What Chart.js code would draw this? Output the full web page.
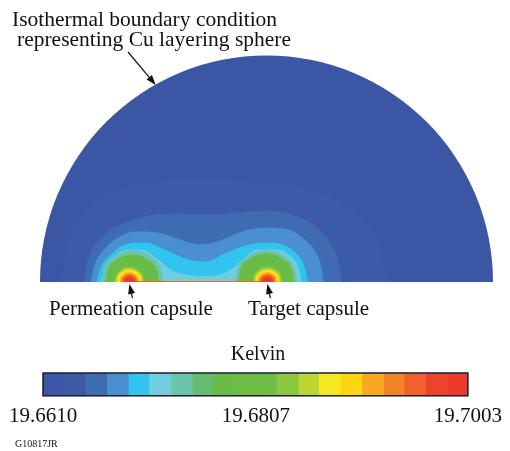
<!DOCTYPE html>
<html>
<head>
<meta charset="utf-8">
<script src="https://cdn.jsdelivr.net/npm/chart.js@4.4.1/dist/chart.umd.min.js"></script>
<style>
  html, body { margin: 0; padding: 0; background: #fff; }
  #wrap { position: relative; width: 510px; height: 451px; }
  #wrap canvas { position: absolute; left: 0; top: 0; }
</style>
</head>
<body>
<div id="wrap">
  <canvas id="field" width="510" height="451"></canvas>
  <canvas id="scaleBar" width="510" height="451"></canvas>
</div>
<script>
// Kelvin colour scale: band edges and band colours (20 bands)
const levels = [19.6610, 19.6630, 19.6649, 19.6669, 19.6689, 19.6708, 19.6728, 19.6748, 19.6767, 19.6787,
                19.6807, 19.6826, 19.6846, 19.6865, 19.6885, 19.6905, 19.6925, 19.6944, 19.6964, 19.6984, 19.7003];
const bandColors = ['#3b56a4', '#3d5aa8', '#3f6bb3', '#4a90d0', '#31c4ef', '#70cde0', '#6cc5ab', '#66bd72', '#69bd46', '#6bbd44',
                    '#6dbe44', '#8dc63f', '#bdd535', '#f6e923', '#fdd60f', '#f8a81e', '#f48226', '#f0612b', '#ee432b', '#ec3a2c'];
const tickValues = [19.6610, 19.6807, 19.7003];

// sphere section, x / y in % of the sphere radius
const sphereR = 100;
const capsuleX = [-60.5, 0.4];
const capsuleNames = ['Permeation capsule', 'Target capsule'];

// isotherm outlines (x, y), outer to inner
const iso1 = [[-90.3, 0], [-89.0, 11.9], [-85.0, 23.0], [-77.9, 32.7], [-66.9, 39.7], [-51.4, 43.7], [-33.8, 45.5],
              [-16.1, 45.0], [1.5, 43.7], [19.2, 40.6], [33.3, 34.4], [43.9, 25.6], [50.6, 14.1], [53.2, 0]];
const iso2 = [[-80.6, 0], [-79.2, 8.4], [-75.7, 15.9], [-70.0, 22.1], [-61.1, 26.5], [-49.2, 29.6], [-36.0, 30.0],
              [-22.7, 29.6], [-9.5, 30.9], [1.5, 31.3], [12.6, 29.1], [21.9, 24.3], [28.0, 17.2], [31.6, 8.8], [33.0, 0]];
const iso3 = [[-77.5, 0], [-75.7, 7.5], [-71.7, 14.1], [-65.6, 19.4], [-58.1, 22.1], [-47.9, 21.6], [-38.2, 18.5],
              [-29.4, 16.3], [-20.5, 18.1], [-10.8, 22.1], [-0.7, 23.8], [9.5, 23.0], [17.0, 18.5], [21.9, 12.4], [24.1, 6.2], [24.9, 0]];
const iso4 = [[-74.8, 0], [-73.1, 6.2], [-69.1, 11.5], [-62.5, 16.3], [-53.6, 17.2], [-44.8, 14.1], [-36.0, 10.2],
              [-27.2, 8.8], [-18.3, 12.4], [-9.5, 15.9], [0.2, 17.2], [9.1, 15.5], [14.3, 11.0], [17.0, 5.3], [17.9, 0]];
const iso5 = [[-73.1, 0], [-71.3, 6.2], [-66.9, 11.5], [-61.1, 14.1], [-53.6, 13.7], [-47.5, 9.5], [-42.0, 5.0],
              [-35.0, 3.0], [-27.0, 2.5], [-19.0, 3.5], [-13.0, 7.5], [-7.5, 12.5], [-3.8, 14.1], [5.1, 14.1],
              [11.3, 10.6], [14.3, 5.3], [15.2, 0]];
// rings round the two capsules (permeation, then target)
const ring6 = [[-72.9, 0], [-71.5, 6.0], [-67.4, 11.0], [-59.2, 13.7], [-51.0, 11.0], [-46.9, 6.0], [-45.5, 0],
               [-13.9, 0], [-12.5, 6.0], [-8.4, 11.0], [-0.2, 13.7], [8.0, 11.0], [12.1, 6.0], [13.5, 0]];
const ring8 = [[-71.1, 0], [-69.9, 5.2], [-66.3, 9.5], [-59.2, 11.9], [-52.1, 9.5], [-48.5, 5.2], [-47.3, 0],
               [-12.6, 0], [-11.4, 5.5], [-7.6, 9.9], [-0.2, 12.4], [7.2, 9.9], [11.0, 5.5], [12.2, 0]];
const ring11 = [[-67.1, 0], [-66.4, 2.9], [-64.5, 5.3], [-60.5, 6.6], [-56.5, 5.3], [-54.6, 2.9], [-53.9, 0],
                [-6.2, 0], [-5.5, 2.9], [-3.6, 5.3], [0.4, 6.6], [4.4, 5.3], [6.3, 2.9], [7.0, 0]];
const ring12 = [[-66.4, 0], [-65.8, 2.6], [-64.0, 4.7], [-60.5, 5.9], [-57.0, 4.7], [-55.2, 2.6], [-54.6, 0],
                [-5.5, 0], [-4.9, 2.6], [-3.1, 4.7], [0.4, 5.9], [3.9, 4.7], [5.7, 2.6], [6.3, 0]];
const ring13 = [[-65.8, 0], [-65.3, 2.3], [-63.7, 4.2], [-60.5, 5.3], [-57.3, 4.2], [-55.7, 2.3], [-55.2, 0],
                [-4.7, 0], [-4.2, 2.2], [-2.7, 4.1], [0.4, 5.1], [3.5, 4.1], [5.0, 2.2], [5.5, 0]];
const ring14 = [[-65.1, 0], [-64.6, 2.0], [-63.3, 3.7], [-60.5, 4.6], [-57.7, 3.7], [-56.4, 2.0], [-55.9, 0],
                [-4.2, 0], [-3.7, 2.0], [-2.4, 3.7], [0.4, 4.6], [3.2, 3.7], [4.5, 2.0], [5.0, 0]];
const ring15 = [[-64.5, 0], [-64.1, 1.8], [-62.9, 3.2], [-60.5, 4.0], [-58.1, 3.2], [-56.9, 1.8], [-56.5, 0],
                [-3.6, 0], [-3.2, 1.8], [-2.0, 3.2], [0.4, 4.0], [2.8, 3.2], [4.0, 1.8], [4.4, 0]];
const ring17 = [[-63.7, 0], [-63.4, 1.4], [-62.4, 2.6], [-60.5, 3.2], [-58.6, 2.6], [-57.6, 1.4], [-57.3, 0],
                [-2.8, 0], [-2.5, 1.4], [-1.5, 2.6], [0.4, 3.2], [2.3, 2.6], [3.3, 1.4], [3.6, 0]];
const ring19 = [[-62.7, 0], [-62.5, 1.0], [-61.8, 1.8], [-60.5, 2.2], [-59.2, 1.8], [-58.5, 1.0], [-58.3, 0],
                [-1.8, 0], [-1.6, 1.0], [-0.9, 1.8], [0.4, 2.2], [1.7, 1.8], [2.4, 1.0], [2.6, 0]];
const fieldCurves = [iso1, iso2, iso3, iso4, iso5, ring6, ring8, ring11, ring12, ring13, ring14, ring15, ring17, ring19];
const fieldBands = [1, 2, 3, 4, 5, 6, 8, 11, 12, 13, 14, 15, 17, 19];

const serif = "'Liberation Serif', 'Times New Roman', serif";
const ink = '#111';

function arrow(ctx, x0, y0, x1, y1) {
    const a = Math.atan2(y1 - y0, x1 - x0), h = 10, w = 3.5;
    ctx.beginPath();
    ctx.moveTo(x0, y0);
    ctx.lineTo(x1 - h * 0.8 * Math.cos(a), y1 - h * 0.8 * Math.sin(a));
    ctx.stroke();
    ctx.beginPath();
    ctx.moveTo(x1, y1);
    ctx.lineTo(x1 - h * Math.cos(a) + w * Math.sin(a), y1 - h * Math.sin(a) - w * Math.cos(a));
    ctx.lineTo(x1 - h * Math.cos(a) - w * Math.sin(a), y1 - h * Math.sin(a) + w * Math.cos(a));
    ctx.closePath();
    ctx.fill();
}

// half disk under the isotherms
const sphereBack = {
    id: 'sphereBack',
    beforeDatasetsDraw(chart) {
        const { ctx, scales: { x, y } } = chart;
        const cx = x.getPixelForValue(0), cy = y.getPixelForValue(0);
        ctx.save();
        ctx.beginPath();
        ctx.arc(cx, cy, x.getPixelForValue(sphereR) - cx, Math.PI, 2 * Math.PI);
        ctx.closePath();
        ctx.fillStyle = bandColors[0];
        ctx.fill();
        ctx.restore();
    }
};

// callouts
const callouts = {
    id: 'callouts',
    afterDraw(chart) {
        const { ctx, scales: { x, y } } = chart;
        ctx.save();
        ctx.fillStyle = ink;
        ctx.strokeStyle = ink;
        ctx.lineWidth = 1.2;
        ctx.textBaseline = 'alphabetic';
        ctx.font = '21.5px ' + serif;
        ctx.fillText('Isothermal boundary condition', 12, 26);
        ctx.fillText('representing Cu layering sphere', 17, 46);
        const ang = 119 * Math.PI / 180;
        arrow(ctx, 128, 52, x.getPixelForValue(sphereR * Math.cos(ang)) - 1, y.getPixelForValue(sphereR * Math.sin(ang)) + 1);

        ctx.font = '21px ' + serif;
        const labelLeft = [49, 248];
        capsuleX.forEach((cx, i) => {
            const px = x.getPixelForValue(cx), py = y.getPixelForValue(0);
            arrow(ctx, px + 3, py + 16, px, py + 2);
            ctx.fillText(capsuleNames[i], labelLeft[i], 315);
        });
        ctx.restore();
    }
};

// 1. Temperature field in the sphere section
new Chart(document.getElementById('field'), {
    type: 'scatter',
    data: {
        datasets: fieldCurves.map((pts, i) => ({
            type: 'line',
            data: pts.map(p => ({ x: p[0], y: p[1] })),
            fill: 'origin',
            backgroundColor: bandColors[fieldBands[i]],
            borderColor: bandColors[fieldBands[i]],
            borderWidth: 1,
            pointRadius: 0,
            cubicInterpolationMode: 'monotone',
            clip: 0,
            order: fieldCurves.length - i   // outer outlines drawn first
        }))
    },
    options: {
        responsive: false,
        animation: false,
        events: [],
        layout: { autoPadding: false, padding: { left: 40, right: 17, top: 55.5, bottom: 169 } },
        plugins: { legend: { display: false }, tooltip: { enabled: false } },
        scales: {
            x: { type: 'linear', min: -sphereR, max: sphereR, display: false },
            y: { type: 'linear', min: 0, max: sphereR, display: false }
        }
    },
    plugins: [sphereBack, callouts]
});

// 2. Colour bar (Kelvin)
const barFrame = {
    id: 'barFrame',
    afterDraw(chart) {
        const { ctx, chartArea: a } = chart;
        ctx.save();
        ctx.strokeStyle = '#1c1c28';
        ctx.lineWidth = 1.5;
        ctx.strokeRect(a.left, a.top, a.right - a.left, a.bottom - a.top);
        ctx.fillStyle = ink;
        ctx.font = '10px ' + serif;
        ctx.fillText('G10817JR', 15, 447);
        ctx.restore();
    }
};

new Chart(document.getElementById('scaleBar'), {
    type: 'bar',
    data: {
        labels: ['Kelvin'],
        datasets: bandColors.map((c, i) => ({
            data: [[levels[i], levels[i + 1]]],
            backgroundColor: c,
            borderWidth: 0,
            grouped: false,
            barPercentage: 1,
            categoryPercentage: 1
        }))
    },
    options: {
        indexAxis: 'y',
        responsive: false,
        animation: false,
        events: [],
        layout: { padding: { left: 43, right: 37, top: 343, bottom: 14 } },
        plugins: {
            legend: { display: false },
            tooltip: { enabled: false },
            title: { display: true, text: 'Kelvin', color: ink, font: { family: serif, size: 20, weight: 'normal' }, padding: { top: 0, bottom: 6 } }
        },
        scales: {
            x: {
                type: 'linear',
                min: levels[0],
                max: levels[levels.length - 1],
                z: 1,
                afterBuildTicks: s => { s.ticks = tickValues.map(v => ({ value: v })); },
                ticks: { callback: v => v.toFixed(4), color: ink, font: { family: serif, size: 21 }, padding: 8, maxRotation: 0, autoSkip: false },
                grid: { drawTicks: false, color: c => (c.tick && c.tick.value === tickValues[1]) ? '#000' : 'transparent', lineWidth: 1.2 },
                border: { display: false }
            },
            y: { display: false }
        }
    },
    plugins: [barFrame]
});
</script>
</body>
</html>
